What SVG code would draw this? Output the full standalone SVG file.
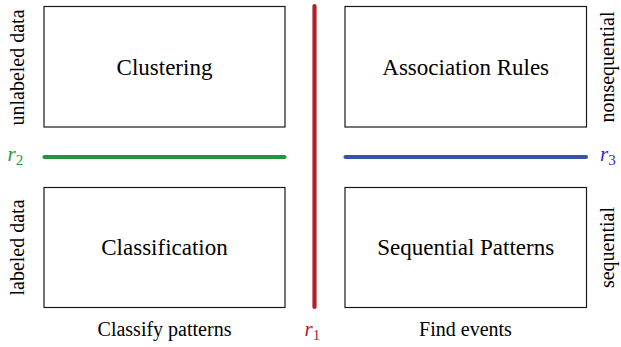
<svg xmlns="http://www.w3.org/2000/svg" width="621" height="347" viewBox="0 0 621 347">
<rect width="621" height="347" fill="#fff"/>
<g id="clustering">
<rect x="44" y="6.5" width="241" height="120.5" fill="#fff" stroke="#1a1a1a" stroke-width="1.2"/>
<text x="164.5" y="75" style="font-family:'Liberation Serif','Times New Roman',serif;font-size:23px" text-anchor="middle">Clustering</text>
</g>
<g id="association-rules">
<rect x="345" y="6.5" width="241.5" height="120.5" fill="#fff" stroke="#1a1a1a" stroke-width="1.2"/>
<text x="465.7" y="75" style="font-family:'Liberation Serif','Times New Roman',serif;font-size:23px" text-anchor="middle">Association Rules</text>
</g>
<g id="classification">
<rect x="44" y="187.5" width="241" height="120" fill="#fff" stroke="#1a1a1a" stroke-width="1.2"/>
<text x="164.5" y="255" style="font-family:'Liberation Serif','Times New Roman',serif;font-size:23px" text-anchor="middle">Classification</text>
</g>
<g id="sequential-patterns">
<rect x="345" y="187.5" width="241.5" height="120" fill="#fff" stroke="#1a1a1a" stroke-width="1.2"/>
<text x="465.7" y="255" style="font-family:'Liberation Serif','Times New Roman',serif;font-size:23px" text-anchor="middle">Sequential Patterns</text>
</g>
<g id="connectors" stroke-width="4.2" stroke-linecap="round" fill="none">
<line x1="314.5" y1="6" x2="314.5" y2="307" stroke="#b3202b"/>
<line x1="44.5" y1="157" x2="284.5" y2="157" stroke="#1f9540"/>
<line x1="345.5" y1="157" x2="586" y2="157" stroke="#3a53a5"/>
</g>
<g id="labels">
<text transform="translate(23.5,67.5) rotate(-90)" style="font-family:'Liberation Serif','Times New Roman',serif;font-size:20px" text-anchor="middle">unlabeled data</text>
<text transform="translate(23.5,247.5) rotate(-90)" style="font-family:'Liberation Serif','Times New Roman',serif;font-size:20px" text-anchor="middle">labeled data</text>
<text transform="translate(614,67) rotate(-90)" style="font-family:'Liberation Serif','Times New Roman',serif;font-size:20px" text-anchor="middle">nonsequential</text>
<text transform="translate(614,247.5) rotate(-90)" style="font-family:'Liberation Serif','Times New Roman',serif;font-size:20px" text-anchor="middle">sequential</text>
<text x="164.5" y="336" style="font-family:'Liberation Serif','Times New Roman',serif;font-size:20px" text-anchor="middle">Classify patterns</text>
<text x="465.5" y="336" style="font-family:'Liberation Serif','Times New Roman',serif;font-size:20px" text-anchor="middle">Find events</text>
<text x="7.5" y="161" style="font-family:'Liberation Serif','Times New Roman',serif;font-size:21px;font-style:italic" fill="#23993b">r<tspan style="font-size:15px;font-style:normal" dy="4">2</tspan></text>
<text x="600" y="161" style="font-family:'Liberation Serif','Times New Roman',serif;font-size:21px;font-style:italic" fill="#2a2ae6">r<tspan style="font-size:15px;font-style:normal" dy="4">3</tspan></text>
<text x="304.5" y="336" style="font-family:'Liberation Serif','Times New Roman',serif;font-size:21px;font-style:italic" fill="#b3202b">r<tspan style="font-size:15px;font-style:normal" dy="4">1</tspan></text>
</g>
</svg>
